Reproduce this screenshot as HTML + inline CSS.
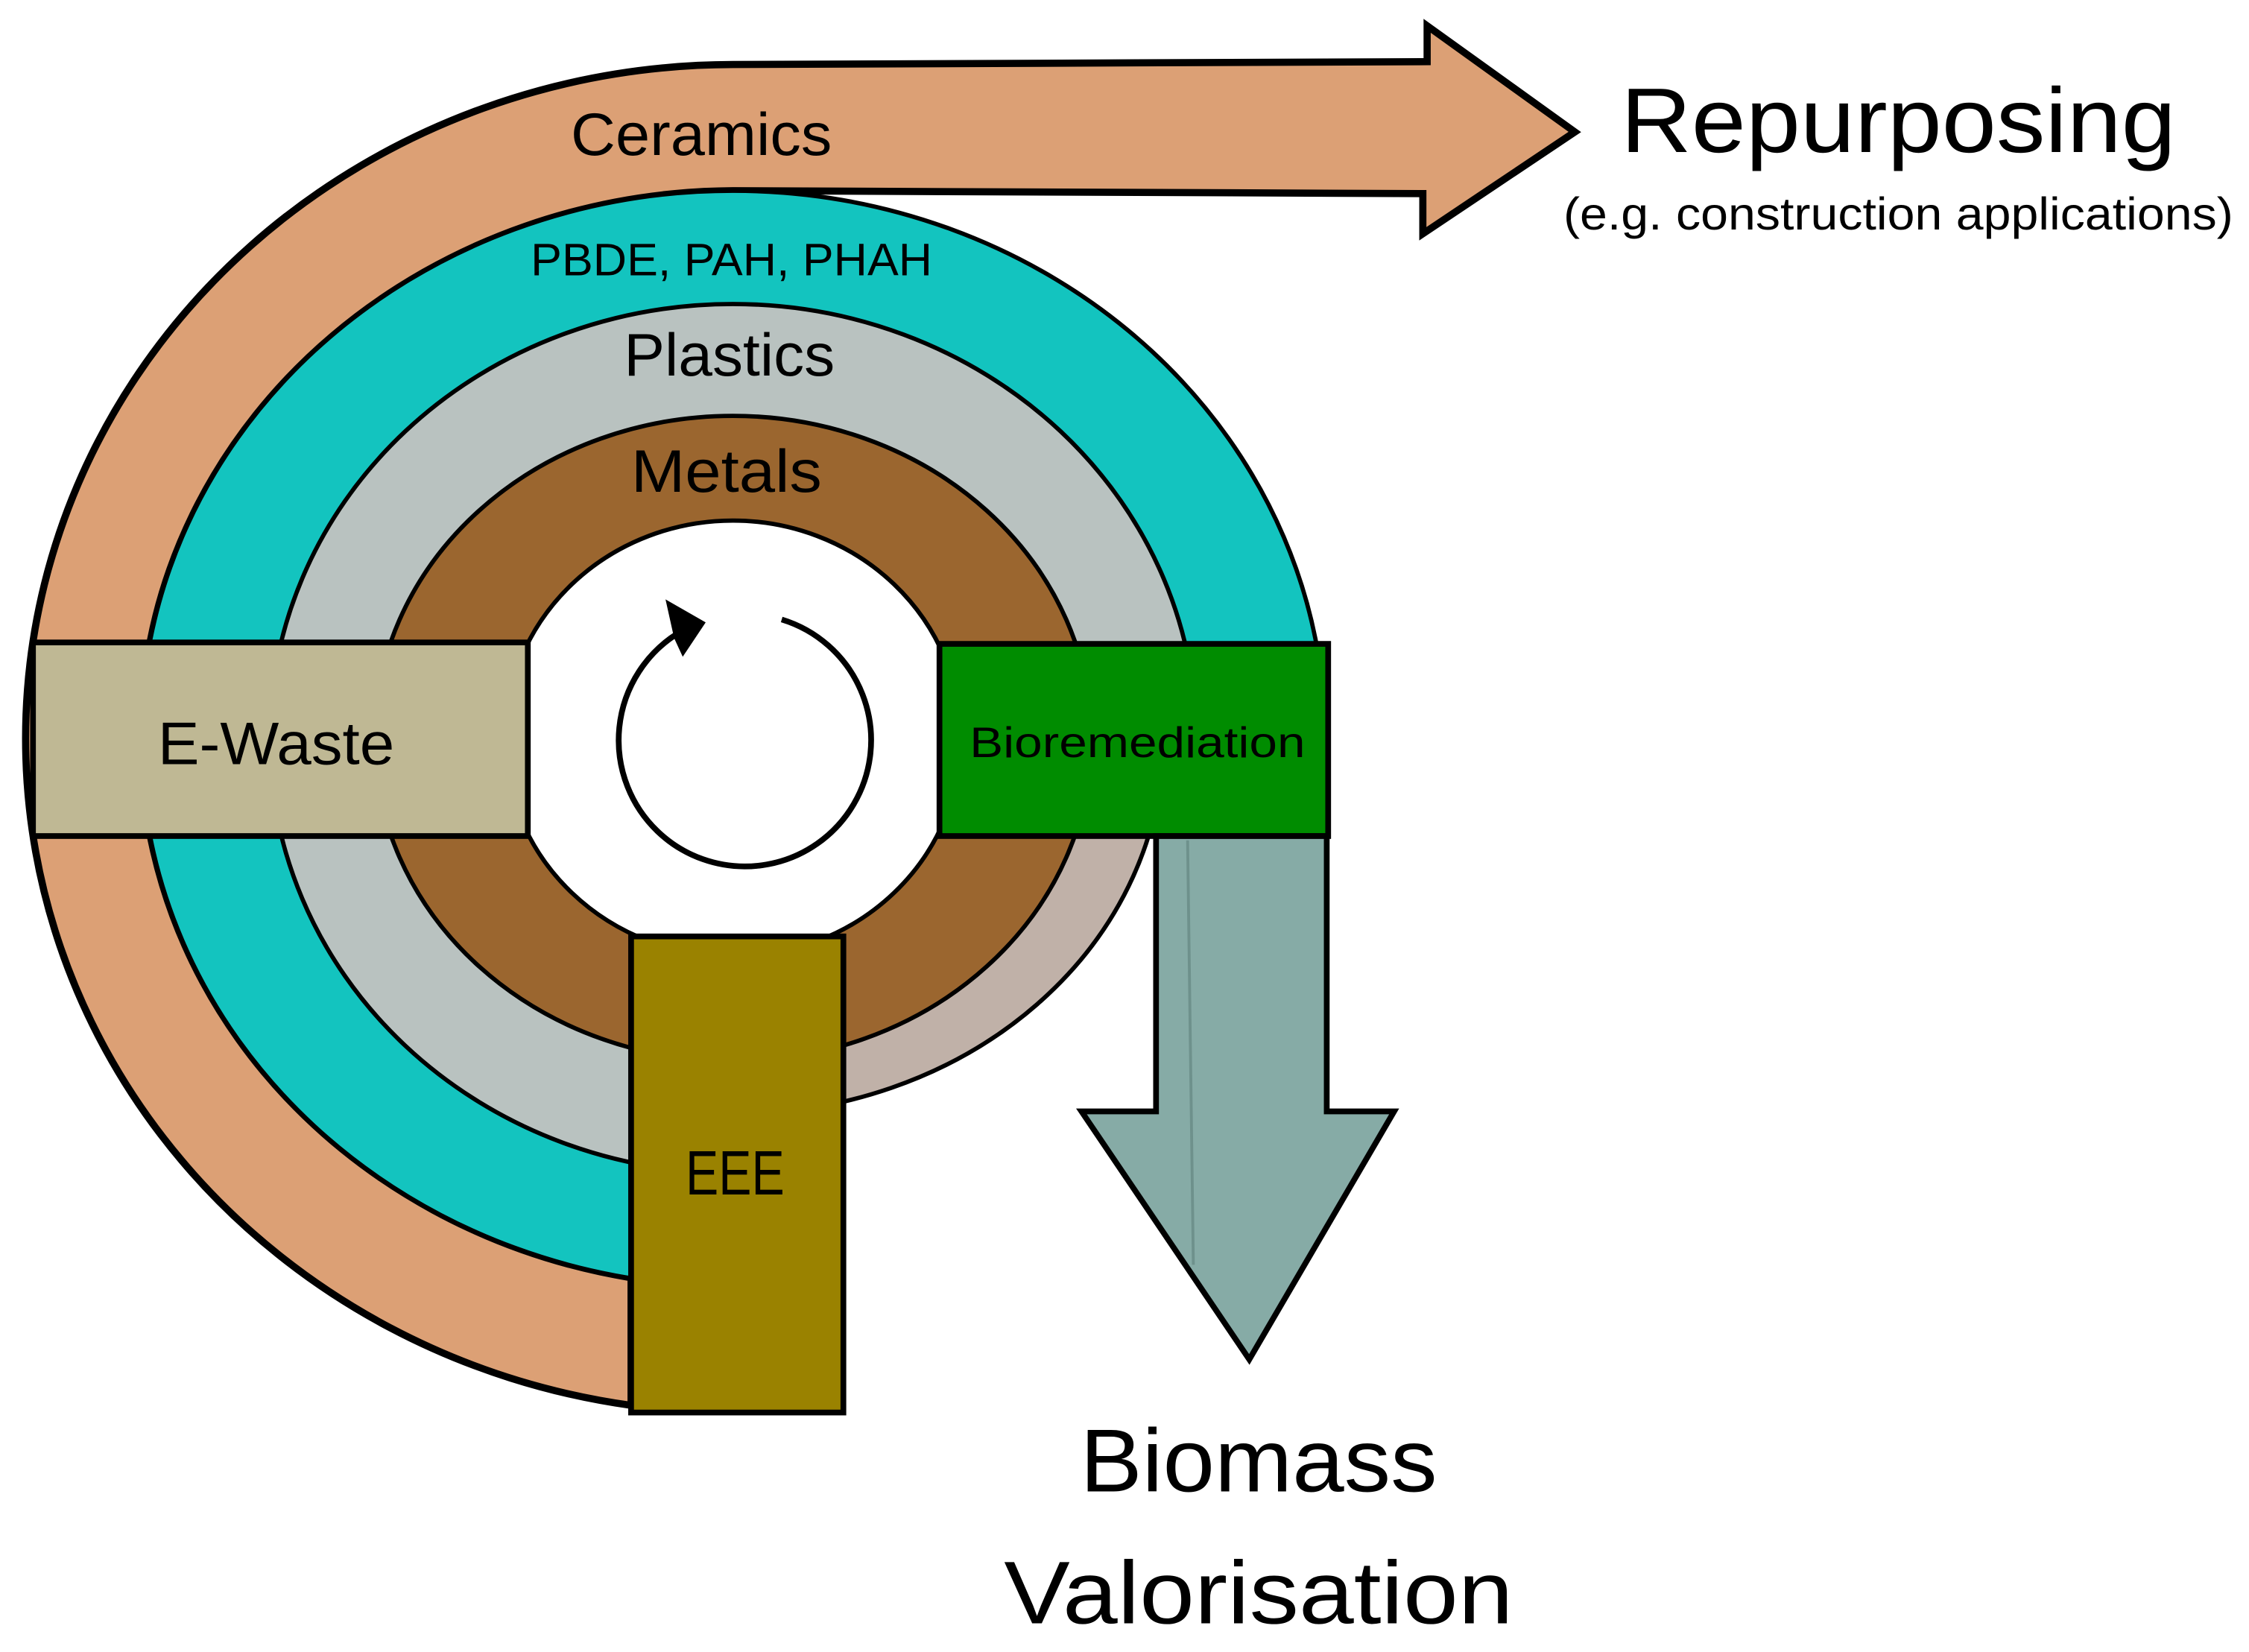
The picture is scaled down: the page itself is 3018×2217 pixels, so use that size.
<!DOCTYPE html>
<html><head><meta charset="utf-8"><style>html,body{margin:0;padding:0;background:#fff}svg{display:block}</style></head>
<body>
<svg width="3018" height="2217" viewBox="0 0 1568 1152" preserveAspectRatio="none" xmlns="http://www.w3.org/2000/svg" font-family="'Liberation Sans', sans-serif">
<defs>
<clipPath id="rb"><rect x="588" y="583" width="500" height="500"/></clipPath>
</defs>
<rect width="1568" height="1152" fill="#fff"/>
<path d="M440,980 A494 470 0 0 1 511,45 L995,43 L995,18 L1098,92 L992,163 L992,135 L511,133 A415 382 0 0 0 440,891 Z" fill="#dca075" stroke="#000" stroke-width="5" stroke-linejoin="miter"/>
<ellipse cx="511" cy="515" rx="413" ry="382" fill="#13c4bf" stroke="#000" stroke-width="3"/>
<ellipse cx="511" cy="515" rx="323" ry="303" fill="#b9c2c0" stroke="#000" stroke-width="3"/>
<rect x="588" y="583" width="500" height="500" fill="#fff"/>
<ellipse cx="511" cy="515" rx="300" ry="262" fill="#c0b1a8" stroke="#000" stroke-width="3" clip-path="url(#rb)"/>
<ellipse cx="511" cy="515" rx="250" ry="225" fill="#9b662f" stroke="#000" stroke-width="3"/>
<ellipse cx="511" cy="515" rx="159" ry="152" fill="#fff" stroke="#000" stroke-width="3"/>
<path d="M545,432 A88 88 0 1 1 472,442" fill="none" stroke="#000" stroke-width="4"/>
<polygon points="464,418 492,434 476,458 470,445" fill="#000"/>
<rect x="23" y="448" width="345" height="135" fill="#bfb894" stroke="#000" stroke-width="4"/>
<rect x="655" y="449" width="271" height="134" fill="#008c00" stroke="#000" stroke-width="4"/>
<polygon points="806,583 925,583 925,775 972,775 871,948 754,775 806,775" fill="#86aba6" stroke="#000" stroke-width="4" stroke-linejoin="miter"/>
<line x1="828" y1="586" x2="832" y2="882" stroke="#6e918c" stroke-width="2"/>
<rect x="440" y="653" width="148" height="332" fill="#9a8200" stroke="#000" stroke-width="4"/>
<g fill="#000">
<text x="398" y="108" font-size="42" textLength="182" lengthAdjust="spacingAndGlyphs">Ceramics</text>
<text x="370" y="192" font-size="32" textLength="280" lengthAdjust="spacingAndGlyphs">PBDE, PAH, PHAH</text>
<text x="435" y="262" font-size="42" textLength="147" lengthAdjust="spacingAndGlyphs">Plastics</text>
<text x="440" y="343" font-size="42" textLength="133" lengthAdjust="spacingAndGlyphs">Metals</text>
<text x="110" y="533" font-size="42" textLength="165" lengthAdjust="spacingAndGlyphs">E-Waste</text>
<text x="676" y="528" font-size="30" textLength="234" lengthAdjust="spacingAndGlyphs">Bioremediation</text>
<text x="478" y="833" font-size="44" textLength="69" lengthAdjust="spacingAndGlyphs">EEE</text>
<text x="1130" y="106" font-size="64" textLength="387" lengthAdjust="spacingAndGlyphs">Repurposing</text>
<text x="1090" y="160" font-size="32" textLength="467" lengthAdjust="spacingAndGlyphs">(e.g. construction applications)</text>
<text x="753" y="1040" font-size="62" textLength="249" lengthAdjust="spacingAndGlyphs">Biomass</text>
<text x="700" y="1132" font-size="62" textLength="355" lengthAdjust="spacingAndGlyphs">Valorisation</text>
</g>
</svg>
</body></html>
